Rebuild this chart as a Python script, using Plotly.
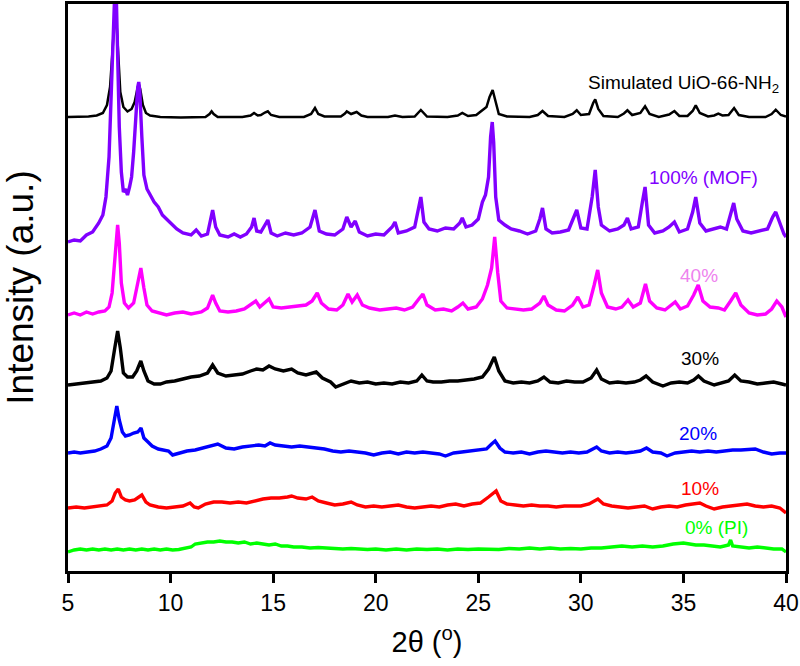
import plotly.graph_objects as go

# stacked XRD patterns, intensity above each pattern's own baseline (a.u.)
sim_x = [5.0, 6.0, 6.4, 6.7, 6.9, 7.05, 7.15, 7.25, 7.3, 7.35, 7.45, 7.55, 7.7, 7.9, 8.1, 8.25, 8.38, 8.45,
         8.52, 8.65, 8.8, 9.0, 9.5, 10.5, 11.7, 11.9, 12.0, 12.1, 12.3, 13.5, 13.9, 14.07, 14.25, 14.4, 14.6,
         14.74, 14.9, 15.3, 16.5, 16.85, 17.04, 17.2, 17.5, 18.3, 18.5, 18.59, 18.8, 19.07, 19.3, 19.6, 20.6,
         20.94, 21.3, 21.9, 22.2, 22.5, 23.5, 24.0, 24.22, 24.5, 24.9, 25.25, 25.4, 25.55, 25.7, 25.85, 26.0,
         26.4, 27.5, 27.9, 28.13, 28.4, 29.2, 29.6, 29.8, 30.0, 30.4, 30.6, 30.7, 30.85, 31.1, 31.8, 32.1,
         32.27, 32.5, 32.9, 33.13, 33.35, 33.8, 34.3, 34.56, 34.8, 35.2, 35.45, 35.6, 35.8, 36.2, 36.5, 36.7,
         36.9, 37.2, 37.47, 37.7, 38.2, 39.0, 39.3, 39.5, 39.75, 40.0]
sim_y = [0, 0.5, 1.5, 4, 12, 30, 60, 100, 109, 100, 55, 25, 10, 5.5, 8, 15, 28, 33,
         28, 12, 4, 1.5, 0, -0.5, 0, 3, 5.7, 3, 0, 0, 1.5, 4, 1.5, 2, 4.5,
         5.7, 2, 0, 0, 3, 9, 3, 0.5, 0.5, 3.5, 5.6, 3, 5, 1.5, 0, 0,
         1.5, 0, 0.5, 7, 0.5, 0, 1.5, 4, 1, 2, 8, 10, 20, 27, 15, 3,
         0.5, 0, 2, 6, 1, 0, 3, 6.7, 2, 3, 14, 17.7, 8, 1, 0, 3.5,
         6.7, 2, 4, 10.7, 3, 0, 2.5, 6, 1, 1, 6, 11.7, 4, 0.5, 1.5, 3.3,
         1.5, 2, 9, 2, 0, 0, 3, 7.3, 2, 0.5]

mof_x = [5.0, 5.3, 5.6, 5.9, 6.2, 6.5, 6.7, 6.85, 7.0, 7.1, 7.2, 7.28, 7.35, 7.42, 7.5, 7.6, 7.7, 7.8, 7.9,
         8.0, 8.1, 8.2, 8.3, 8.4, 8.45, 8.5, 8.6, 8.7, 8.85, 9.0, 9.2, 9.4, 9.6, 9.8, 10.0, 10.3, 10.6, 11.0,
         11.25, 11.5, 11.8, 11.95, 12.05, 12.2, 12.4, 12.8, 13.1, 13.4, 13.7, 13.95, 14.07, 14.2, 14.4, 14.6,
         14.74, 14.9, 15.2, 15.6, 16.0, 16.4, 16.8, 17.04, 17.25, 17.6, 18.0, 18.4, 18.59, 18.8, 19.0, 19.2,
         19.6, 20.0, 20.4, 20.8, 20.94, 21.1, 21.5, 21.9, 22.1, 22.2, 22.35, 22.6, 23.0, 23.4, 23.8, 24.1,
         24.22, 24.4, 24.7, 25.0, 25.2, 25.35, 25.5, 25.6, 25.68, 25.75, 25.85, 26.0, 26.3, 26.6, 27.0, 27.4,
         27.8, 28.0, 28.13, 28.3, 28.6, 29.0, 29.4, 29.65, 29.8, 30.0, 30.3, 30.55, 30.7, 30.85, 31.0, 31.4,
         31.8, 32.1, 32.27, 32.45, 32.8, 33.0, 33.13, 33.3, 33.6, 34.0, 34.3, 34.56, 34.8, 35.2, 35.45, 35.6,
         35.8, 36.1, 36.5, 36.8, 37.1, 37.35, 37.45, 37.6, 37.9, 38.3, 38.7, 39.1, 39.35, 39.5, 39.7, 39.9, 40.0]
mof_y = [-5, -3, -4, 2, 5, 14, 22, 40, 80, 130, 200, 245, 245, 180, 110, 65, 45, 48, 42,
         50, 60, 85, 120, 150, 155, 145, 100, 62, 48, 42, 35, 30, 22, 18, 14, 8, 4, 2,
         7, 1, 3, 20, 27, 10, 2, 0, 3, 0, 3, 10, 19, 6, 5, 12,
         17, 4, 1, 4, 2, 4, 10, 27, 6, 3, 2, 8, 20, 10, 16, 5,
         1, 3, 2, 10, 15, 4, 6, 10, 30, 40, 15, 8, 6, 9, 8, 14,
         19, 10, 12, 18, 35, 42, 60, 100, 115, 95, 40, 17, 12, 8, 6, 3,
         6, 18, 29, 8, 4, 5, 7, 20, 27, 9, 8, 40, 67, 30, 12, 6,
         8, 12, 19, 8, 10, 35, 50, 12, 4, 6, 10, 15, 5, 8, 25, 40,
         14, 6, 8, 10, 8, 28, 34, 18, 6, 4, 6, 8, 20, 25, 14, 3, 0]

p40_x = [5.0, 5.3, 5.6, 5.9, 6.2, 6.5, 6.8, 7.0, 7.15, 7.3, 7.42, 7.5, 7.6, 7.75, 7.95, 8.2, 8.4, 8.55, 8.7,
         8.85, 9.1, 9.5, 9.8, 10.2, 10.6, 11.0, 11.5, 11.8, 12.05, 12.2, 12.4, 12.8, 13.2, 13.6, 13.9, 14.15,
         14.35, 14.6, 14.8, 15.0, 15.4, 15.8, 16.2, 16.6, 16.9, 17.15, 17.35, 17.7, 18.1, 18.4, 18.65, 18.85,
         19.1, 19.35, 19.7, 20.2, 20.6, 21.0, 21.4, 21.8, 22.1, 22.3, 22.5, 22.9, 23.3, 23.7, 24.0, 24.25,
         24.5, 24.9, 25.2, 25.45, 25.65, 25.8, 25.95, 26.1, 26.4, 26.8, 27.2, 27.6, 28.0, 28.2, 28.4, 28.8,
         29.2, 29.6, 29.85, 30.1, 30.4, 30.65, 30.82, 31.0, 31.3, 31.7, 32.0, 32.3, 32.55, 32.9, 33.15, 33.35,
         33.7, 34.1, 34.4, 34.6, 34.85, 35.2, 35.5, 35.72, 35.95, 36.3, 36.7, 37.0, 37.3, 37.55, 37.8, 38.2,
         38.6, 39.0, 39.3, 39.55, 39.8, 40.0]
p40_y = [-2, 0, -2, 1, -1, 1, 2, 6, 20, 60, 88, 70, 30, 10, 5, 10, 30, 45, 25,
         8, 2, 0, -2, 0, 1, -1, 1, 5, 18, 10, 2, 1, 2, 4, 8, 12,
         6, 10, 14, 6, 5, 6, 7, 8, 12, 20, 10, 4, 3, 8, 19, 11,
         18, 8, 5, 3, 4, 5, 3, 6, 14, 19, 8, 3, 4, 2, 6, 10,
         4, 6, 14, 28, 45, 76, 40, 12, 5, 4, 3, 4, 10, 17, 8, 3,
         2, 8, 16, 6, 8, 28, 43, 20, 6, 4, 6, 13, 6, 10, 29, 12,
         5, 3, 8, 11, 4, 7, 18, 28, 12, 6, 5, 3, 12, 20, 8, 0,
         -2, -1, 4, 12, 6, -4]

p30_x = [5.0, 5.4, 5.8, 6.2, 6.6, 6.9, 7.1, 7.28, 7.42, 7.55, 7.7, 7.9, 8.15, 8.35, 8.55, 8.7, 8.9, 9.2, 9.5,
         9.8, 10.2, 10.6, 11.0, 11.4, 11.8, 12.05, 12.3, 12.7, 13.1, 13.5, 13.9, 14.2, 14.5, 14.8, 15.1, 15.5,
         15.9, 16.2, 16.6, 16.9, 17.1, 17.4, 17.8, 18.05, 18.4, 18.8, 19.2, 19.6, 20.0, 20.4, 20.8, 21.2, 21.6,
         22.0, 22.25, 22.5, 22.8, 23.2, 23.6, 24.0, 24.4, 24.8, 25.2, 25.5, 25.78, 26.0, 26.3, 26.7, 27.1,
         27.5, 27.9, 28.2, 28.5, 28.9, 29.3, 29.7, 30.1, 30.5, 30.77, 31.0, 31.4, 31.8, 32.2, 32.6, 32.9,
         33.18, 33.5, 34.0, 34.4, 34.8, 35.2, 35.5, 35.73, 36.0, 36.5, 36.9, 37.2, 37.5, 37.8, 38.2, 38.6,
         39.0, 39.4, 39.8, 40.0]
p30_y = [-2, -1, 0, 1, 2, 5, 12, 35, 52, 35, 10, 6, 6, 12, 22, 12, 2, -1, -1,
         1, 2, 4, 6, 7, 10, 18, 10, 7, 8, 9, 12, 14, 13, 17, 14, 12,
         14, 10, 8, 10, 11, 5, 1, -4, -1, 2, 0, 1, -1, 0, -1, 1, 0,
         2, 8, 2, 1, 1, 2, 2, 3, 4, 6, 14, 26, 12, 2, 0, 1,
         0, 2, 6, 1, 0, 2, 1, 1, 5, 13, 4, 0, 1, 0, 1, 3,
         7, 1, -3, 0, 1, 0, 3, 7, 2, -2, 0, 2, 8, 2, 1, -1,
         0, 1, -1, -2]

p20_x = [5.0, 5.3, 5.6, 6.0, 6.3, 6.6, 6.9, 7.1, 7.25, 7.38, 7.5, 7.65, 7.8, 8.0, 8.2, 8.4, 8.56, 8.7, 8.9,
         9.1, 9.4, 9.7, 9.9, 10.1, 10.4, 10.8, 11.2, 11.6, 12.0, 12.3, 12.7, 13.1, 13.5, 13.9, 14.3, 14.6,
         14.85, 15.1, 15.5, 15.9, 16.3, 16.7, 17.1, 17.5, 17.9, 18.3, 18.7, 19.1, 19.5, 19.9, 20.3, 20.7,
         21.1, 21.5, 21.9, 22.3, 22.7, 23.1, 23.4, 23.8, 24.2, 24.6, 25.0, 25.4, 25.65, 25.82, 26.05, 26.3,
         26.7, 27.1, 27.5, 27.9, 28.3, 28.7, 29.1, 29.5, 29.9, 30.3, 30.6, 30.77, 31.0, 31.4, 31.8, 32.2,
         32.6, 32.9, 33.2, 33.5, 33.9, 34.2, 34.6, 35.0, 35.4, 35.8, 36.2, 36.6, 37.0, 37.4, 37.8, 38.2,
         38.5, 38.9, 39.3, 39.7, 40.0]
p20_y = [-1, 0, -1, 0.5, 1, 3, 6, 14, 30, 46, 32, 20, 16, 17, 19, 20, 24, 14, 10,
         6, 3, 2, 1, -3, -1, 1, 2, 4, 6, 8, 4, 3, 5, 6, 7, 6,
         9, 7, 6, 5, 6, 5, 4, 3, 1, 0, 1, 0, -1, -3, -1, 0,
         -2, 0, -1, 0, -1, -2, -4, -1, 0, 1, 2, 3, 8, 11, 4, 0,
         -1, 0, -2, 0, 1, 0, -1, 0, -1, 0, 3, 5, 1, -1, 0, -1,
         0, 1, 4, 0, -1, -4, -1, 0, 1, 0, 1, 0, 1, 2, 2, 3,
         3, 0, -2, -1, -1]

p10_x = [5.0, 5.4, 5.8, 6.2, 6.6, 6.9, 7.15, 7.3, 7.45, 7.6, 7.8, 8.0, 8.25, 8.45, 8.6, 8.8, 9.0, 9.4, 9.8,
         10.2, 10.6, 10.95, 11.15, 11.35, 11.7, 12.1, 12.5, 12.9, 13.3, 13.7, 14.1, 14.5, 14.9, 15.3, 15.7,
         15.9, 16.2, 16.6, 16.9, 17.2, 17.6, 18.0, 18.4, 18.8, 19.1, 19.5, 19.9, 20.3, 20.7, 21.1, 21.5,
         21.9, 22.3, 22.7, 23.1, 23.5, 23.9, 24.3, 24.7, 25.1, 25.5, 25.87, 26.1, 26.4, 26.8, 27.2, 27.6,
         28.0, 28.4, 28.8, 29.2, 29.6, 30.0, 30.4, 30.83, 31.1, 31.5, 31.9, 32.3, 32.7, 33.1, 33.5, 33.9,
         34.3, 34.7, 35.1, 35.5, 35.8, 36.1, 36.5, 36.9, 37.3, 37.7, 38.1, 38.5, 38.9, 39.3, 39.7, 40.0]
p10_y = [-1, 0, -1, 0, 0.5, 2, 6, 14, 18, 10, 7, 6, 7, 10, 12, 5, 2, 0, -1,
         0, 1, 4, 0, -1, 3, 5, 5, 4, 5, 4, 6, 8, 9, 9, 10,
         11, 9, 8, 10, 6, 4, 2, 3, 5, 2, 0, 1, 0, 1, 2, 0,
         -1, 0, 1, 0, 2, 3, 1, 3, 4, 10, 16, 6, 3, 2, 1, 2,
         1, 1, 0, 1, 1, 1, 3, 8, 3, 1, 0, -1, 0, 1, -2, 0,
         1, 0, 2, 3, 4, 1, -2, 0, 1, 2, 3, 1, 0, 1, -1, -6]

pi_x = [5.0, 5.3, 5.6, 5.9, 6.2, 6.5, 6.8, 7.1, 7.4, 7.7, 8.0, 8.3, 8.6, 8.9, 9.2, 9.5, 9.8, 10.1, 10.4,
        10.7, 11.0, 11.2, 11.5, 11.8, 12.1, 12.4, 12.7, 13.0, 13.3, 13.6, 13.9, 14.2, 14.5, 14.8, 15.1,
        15.4, 15.7, 16.0, 16.4, 16.8, 17.2, 17.6, 18.0, 18.4, 18.8, 19.2, 19.6, 20.0, 20.5, 21.0, 21.5,
        22.0, 22.5, 23.0, 23.5, 24.0, 24.5, 25.0, 25.5, 26.0, 26.5, 27.0, 27.5, 28.0, 28.5, 29.0, 29.5,
        30.0, 30.5, 31.0, 31.5, 32.0, 32.5, 33.0, 33.5, 34.0, 34.5, 35.0, 35.3, 35.6, 36.0, 36.4, 36.8,
        37.2, 37.3, 37.4, 37.8, 38.2, 38.6, 39.0, 39.4, 39.8, 40.0]
pi_y = [-2, 0, 1, 0, 1, 0, 1, 0, 1, 0, 1, 0, 1, 0, 1, 0, 1, 0, 0.5,
        1.5, 3, 6, 7, 8, 8, 9, 8, 8, 7, 8, 6, 7, 6, 5, 6,
        4, 4, 3, 3, 2, 2.5, 2, 1.5, 1, 1.5, 1, 0.5, 1, 0, 1, 0,
        1, 0.5, 1, 0, 1, 0.5, 1, 1, 0.5, 1.5, 1, 2, 1, 2, 1, 1.5,
        1, 2, 2, 3, 4, 3, 4, 3, 4, 6, 7, 6, 5, 5, 4, 3,
        5, 10, 4, 3, 2, 3, 2, 1, 1, -2]

names = ['Simulated UiO-66-NH<sub>2</sub>', '100% (MOF)', '40%', '30%', '20%', '10%', '0% (PI)']
offsets = [454, 334, 258, 188, 119, 64, 21]
colors = ['#000000', '#8000ff', '#ff00ff', '#000000', '#0000ff', '#ff0000', '#00ff00']
label_colors = ['#000000', '#8000ff', '#ee82ee', '#000000', '#0000ff', '#ff0000', '#00ff00']

xs = [sim_x, mof_x, p40_x, p30_x, p20_x, p10_x, pi_x]
ys = [sim_y, mof_y, p40_y, p30_y, p20_y, p10_y, pi_y]

fig = go.Figure()
for ind, (x, y) in enumerate(zip(xs, ys)):
    fig.add_trace(go.Scatter(x=x, y=[v + offsets[ind] for v in y], mode='lines',
                             line=dict(color=colors[ind], width=2.5 if ind == 0 else 3.4),
                             showlegend=False, hoverinfo='skip'))

# label positions (2theta, axis units)
label_pos = [(35.0, 487), (36.0, 394), (35.74, 296), (35.81, 213), (35.72, 138), (35.81, 83), (36.59, 44)]
for ind, (lx, ly) in enumerate(label_pos):
    fig.add_annotation(x=lx, y=ly, text=names[ind], showarrow=False, xanchor='center', yanchor='middle',
                       font=dict(size=19, color=label_colors[ind]))

font = 'Arial, Liberation Sans, sans-serif'
fig.update_layout(
    width=800, height=666,
    margin=dict(l=68, r=14, t=4, b=95),
    plot_bgcolor='white', paper_bgcolor='white',
    font=dict(family=font, color='black'),
)
fig.update_xaxes(range=[5, 40], tickvals=[5, 10, 15, 20, 25, 30, 35, 40], ticks='outside', ticklen=9,
                 tickwidth=3, tickcolor='black', tickfont=dict(size=23), showline=True, linewidth=3,
                 linecolor='black', mirror=True, showgrid=False, zeroline=False, automargin=False,
                 title=dict(text='2\u03b8 (<sup>o</sup>)', font=dict(size=29), standoff=18))
fig.update_yaxes(range=[0, 567], showticklabels=False, ticks='', showline=True, linewidth=3,
                 linecolor='black', mirror=True, showgrid=False, zeroline=False, automargin=False,
                 title=dict(text='Intensity (a.u.)', font=dict(size=37), standoff=30))

# the page body has a default 8px margin; drop it so the figure sits at the window corner
fig.write_html("out.html", config={'displayModeBar': False},
               post_script="document.body.style.margin='0';")
